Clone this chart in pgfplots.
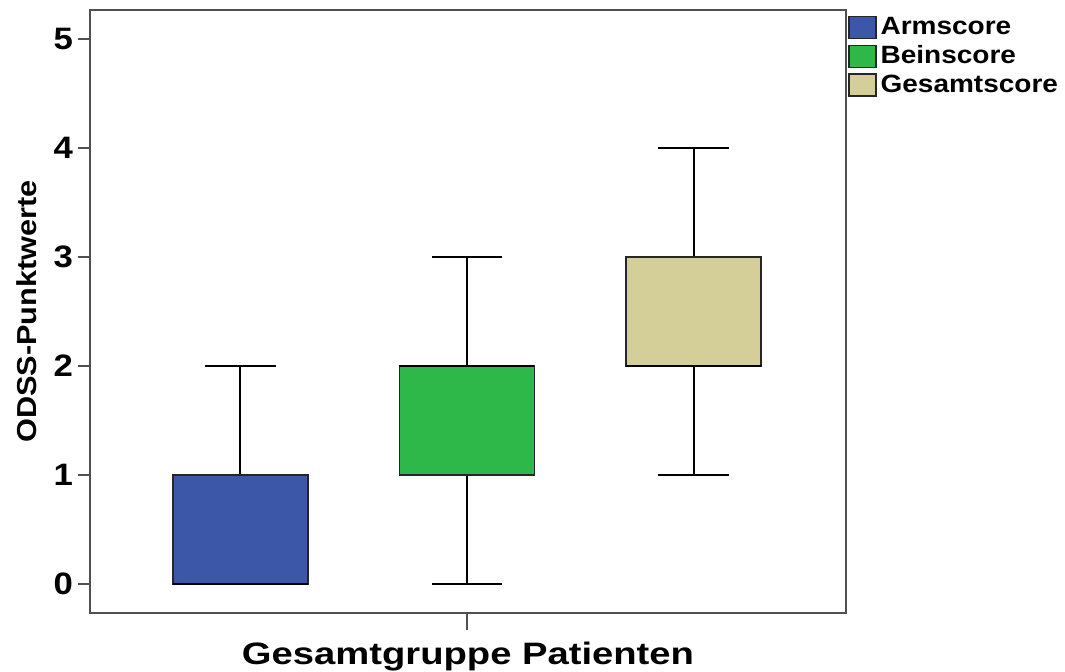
\documentclass[border=0pt]{standalone}
\usepackage{graphicx}
\usepackage{pgfplots}
\pgfplotsset{compat=1.18}
\usepgfplotslibrary{statistics}
\usepackage{fontspec}
\setmainfont[FakeStretch=1.12]{Liberation Sans}
\definecolor{cArm}{HTML}{3C57A8}
\definecolor{cBein}{HTML}{2EB84A}
\definecolor{cGes}{HTML}{D4CF99}
\definecolor{frame}{HTML}{505050}
\begin{document}
\begin{tikzpicture}
\useasboundingbox (-45pt,-29.5pt) rectangle (487.5pt,306.5pt);
\begin{axis}[
  at={(0,0)}, anchor=south west,
  scale only axis, width=378pt, height=301.5pt,
  xmin=0.336, xmax=3.673, ymin=-0.266, ymax=5.266,
  axis line style={frame, line width=0.8pt},
  xtick=\empty,
  ytick={0,1,2,3,4,5},
  tick style={frame, line width=0.8pt},
  tick align=outside,
  xtick pos=bottom, ytick pos=left,
  major tick length=6pt,
  extra description/.code={\draw[frame, line width=0.8pt] (rel axis cs:0.4987,0) -- ([yshift=-8.5pt]rel axis cs:0.4987,0);},
  /pgf/number format/assume math mode=true,
  yticklabel style={font=\bfseries\fontsize{15.5}{18}\selectfont, xshift=1pt},
  xlabel={\scalebox{1.1}[1]{\bfseries Gesamtgruppe Patienten}},
  ylabel={\bfseries ODSS-Punktwerte},
  xlabel style={font=\fontsize{15.5}{18}\selectfont, at={(rel axis cs:0.5,0)}, anchor=center, yshift=-22pt},
  ylabel style={font=\fontsize{13.7}{16}\selectfont, at={(rel axis cs:0,0.5)}, anchor=center, yshift=31.5pt},
  legend style={draw=none, fill=none, at={(rel axis cs:1,1)}, anchor=north west, xshift=0pt, yshift=-0.5pt,
    font=\bfseries\fontsize{12.5}{14}\selectfont, row sep=0pt, inner sep=1pt,
    /tikz/every even column/.append style={column sep=0pt}},
  legend cell align=left,
  legend image code/.code={\draw[#1] (0pt,-5.5pt) rectangle (13.5pt,5.5pt);},
  boxplot/draw direction=y,
  boxplot/every median/.style={line width=1.4pt, black},
  boxplot/every whisker/.style={line width=1pt, black},
  boxplot/every box/.style={draw=black!85, line width=0.6pt},
]
\addlegendimage{fill=cArm, draw=black!85, line width=0.6pt}
\addlegendentry{Armscore}
\addlegendimage{fill=cBein, draw=black!85, line width=0.6pt}
\addlegendentry{Beinscore}
\addlegendimage{fill=cGes, draw=black!85, line width=0.6pt}
\addlegendentry{Gesamtscore}
\addplot+[forget plot, mark=none, fill=cArm, draw=black!85,
  boxplot prepared={lower whisker=0, lower quartile=0, median=0, upper quartile=1, upper whisker=2,
  draw position=1, box extend=0.596, whisker extend=0.31}] coordinates {};
\addplot+[forget plot, mark=none, fill=cBein, draw=black!85,
  boxplot prepared={lower whisker=0, lower quartile=1, median=2, upper quartile=2, upper whisker=3,
  draw position=2, box extend=0.596, whisker extend=0.31}] coordinates {};
\addplot+[forget plot, mark=none, fill=cGes, draw=black!85,
  boxplot prepared={lower whisker=1, lower quartile=2, median=2, upper quartile=3, upper whisker=4,
  draw position=3, box extend=0.596, whisker extend=0.31}] coordinates {};
\end{axis}
\end{tikzpicture}
\end{document}
